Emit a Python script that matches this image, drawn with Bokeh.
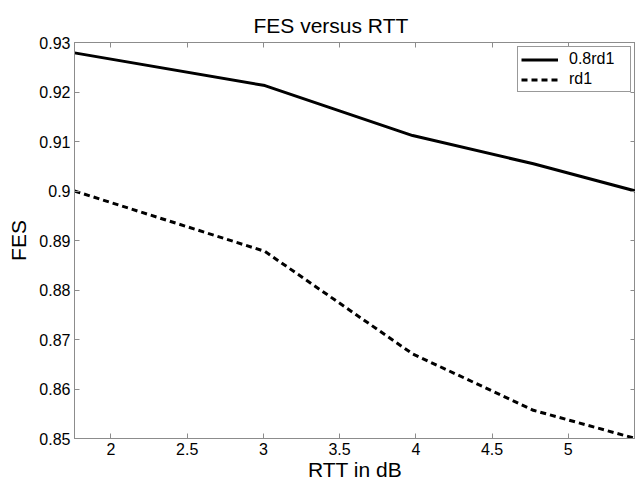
from bokeh.plotting import figure
from bokeh.models import Range1d, LinearAxis, FixedTicker, Legend, LegendItem, CustomJSTickFormatter
from bokeh.embed import file_html
from bokeh.resources import INLINE

# ---- data ----
rtt_db = [1.761, 3.010, 3.979, 4.771, 5.441]
fes_08rd1 = [0.9279, 0.9213, 0.9112, 0.9055, 0.9000]
fes_rd1 = [0.9000, 0.8878, 0.8671, 0.8557, 0.8500]
series_names = ["0.8rd1", "rd1"]

x_ticks = [2, 2.5, 3, 3.5, 4, 4.5, 5]
x_tick_labels = ["2", "2.5", "3", "3.5", "4", "4.5", "5"]
y_ticks = [0.85, 0.86, 0.87, 0.88, 0.89, 0.90, 0.91, 0.92, 0.93]
y_tick_labels = ["0.85", "0.86", "0.87", "0.88", "0.89", "0.9", "0.91", "0.92", "0.93"]

FONT = "Liberation Sans"
AXIS_COLOR = "#8c8c8c"

p = figure(width=635, height=483, output_backend="svg", toolbar_location=None,
           x_range=Range1d(rtt_db[0], rtt_db[-1]), y_range=Range1d(0.85, 0.93),
           min_border_left=74, min_border_right=0, min_border_top=42, min_border_bottom=45,
           title="FES versus RTT")

p.background_fill_color = "white"
p.border_fill_color = "white"
p.outline_line_color = AXIS_COLOR
p.grid.visible = False

p.title.text_font = FONT
p.title.text_font_size = "21px"
p.title.text_font_style = "normal"
p.title.text_color = "black"
p.title.align = "left"
p.title.offset = 179
p.title.standoff = 11

def style_axis(ax, labels=True):
    ax.axis_line_color = AXIS_COLOR
    ax.major_tick_line_color = AXIS_COLOR
    ax.major_tick_in = 5
    ax.major_tick_out = 0
    ax.minor_tick_line_color = None
    ax.major_label_text_font = FONT
    ax.major_label_text_font_size = "16px"
    ax.major_label_text_color = "black"
    ax.major_label_standoff = 4
    ax.axis_label_text_font = FONT
    ax.axis_label_text_font_size = "21px"
    ax.axis_label_text_font_style = "normal"
    ax.axis_label_text_color = "black"
    if not labels:
        ax.formatter = CustomJSTickFormatter(code="return '';")
        ax.major_label_standoff = 0

p.xaxis.ticker = FixedTicker(ticks=x_ticks)
p.xaxis.major_label_overrides = dict(zip(x_ticks, x_tick_labels))
p.yaxis.ticker = FixedTicker(ticks=y_ticks)
p.yaxis.major_label_overrides = dict(zip(y_ticks, y_tick_labels))
p.xaxis.axis_label = "RTT in dB"
p.yaxis.axis_label = "FES"
style_axis(p.xaxis[0])
style_axis(p.yaxis[0])
p.xaxis.axis_label_standoff = 0
p.yaxis.axis_label_standoff = 6

top_ax = LinearAxis(ticker=FixedTicker(ticks=x_ticks))
right_ax = LinearAxis(ticker=FixedTicker(ticks=y_ticks))
style_axis(top_ax, labels=False)
style_axis(right_ax, labels=False)
p.add_layout(top_ax, "above")
p.add_layout(right_ax, "right")

r1 = p.line(rtt_db, fes_08rd1, line_color="black", line_width=3)
r2 = p.line(rtt_db, fes_rd1, line_color="black", line_width=3, line_dash="6 4")

legend = Legend(items=[LegendItem(label=series_names[0], renderers=[r1]),
                       LegendItem(label=series_names[1], renderers=[r2])],
                location="top_right")
legend.margin = 4
legend.padding = 3
legend.spacing = 2
legend.glyph_width = 37
legend.glyph_height = 17
legend.label_height = 17
legend.label_width = 58
legend.label_standoff = 11
legend.label_text_font = FONT
legend.label_text_font_size = "16px"
legend.label_text_color = "black"
legend.border_line_color = "#333333"
legend.border_line_width = 1
legend.background_fill_color = "white"
legend.background_fill_alpha = 1
p.add_layout(legend)

open("out.html", "w").write(file_html(p, INLINE))
